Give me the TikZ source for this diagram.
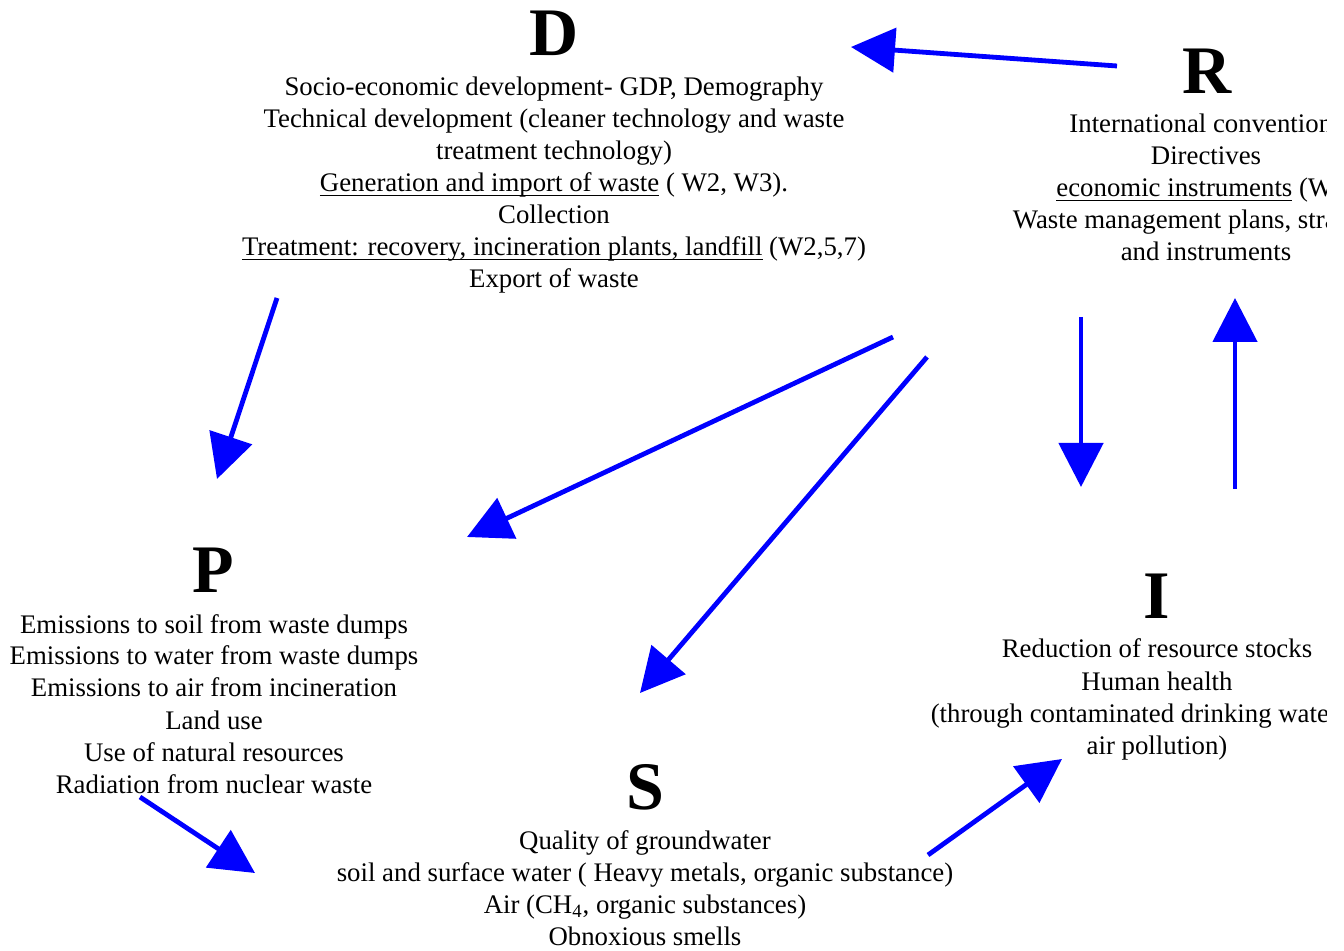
\documentclass[tikz,border=0pt]{standalone}
\usepackage{fontspec}
\setmainfont{Liberation Serif}
\usetikzlibrary{arrows.meta}
\newsavebox\ulbox
\newcommand\myul[1]{\sbox\ulbox{#1}\rlap{\rule[-2.1pt]{\wd\ulbox}{0.7pt}}\usebox\ulbox}
\begin{document}
\begin{tikzpicture}[x=0.5pt,y=-0.5pt,
  bigletter/.style={font=\fontsize{34}{40}\selectfont\bfseries, anchor=base, inner sep=0pt},
  txt/.style={font=\fontsize{13.4}{16}\selectfont, anchor=base, inner sep=0pt},
  flow/.style={blue, line width=2.4pt, -{Triangle[length=22pt,width=22pt]}}]
\useasboundingbox (0,0) rectangle (1344,951);
\begin{scope}
\clip (0,0) rectangle (1326,951);
% D
\node[bigletter] (D) at (554,56) {D};
\node[txt] (d1) at (554,96) {Socio-economic development- GDP, Demography};
\node[txt] (d2) at (554,128) {Technical development (cleaner technology and waste};
\node[txt] (d3) at (554,160) {treatment technology)};
\node[txt] (d4) at (554,192) {\myul{Generation and import of waste} ( W2, W3).};
\node[txt] (d5) at (554,224) {Collection};
\node[txt] (d6) at (554,256) {\myul{Treatment: recovery, incineration plants, landfill} (W2,5,7)};
\node[txt] (d7) at (554,288) {Export of waste};
% R
\node[bigletter] (R) at (1207,94) {R};
\node[txt] (r1) at (1206,133) {International conventions};
\node[txt] (r2) at (1206,165) {Directives};
\node[txt] (r3) at (1206,197) {\myul{economic instruments} (W1)};
\node[txt] (r4) at (1206,229) {Waste management plans, strategies};
\node[txt] (r5) at (1206,261) {and instruments};
% P
\node[bigletter] (P) at (213,593) {P};
\node[txt] (p1) at (214,633) {Emissions to soil from waste dumps};
\node[txt] (p2) at (214,665) {Emissions to water from waste dumps};
\node[txt] (p3) at (214,697) {Emissions to air from incineration};
\node[txt] (p4) at (214,729) {Land use};
\node[txt] (p5) at (214,761) {Use of natural resources};
\node[txt] (p6) at (214,793) {Radiation from nuclear waste};
% I
\node[bigletter] (I) at (1157,618) {I};
\node[txt] (i1) at (1157,658) {Reduction of resource stocks};
\node[txt] (i2) at (1157,690) {Human health};
\node[txt] (i3) at (1157,722) {(through contaminated drinking water and};
\node[txt] (i4) at (1157,754) {air pollution)};
% S
\node[bigletter] (S) at (645,809) {S};
\node[txt] (s1) at (645,849) {Quality of groundwater};
\node[txt] (s2) at (645,881) {soil and surface water ( Heavy metals, organic substance)};
\node[txt] (s3) at (645,913) {Air (CH\textsubscript{4}, organic substances)};
\node[txt] (s4) at (645,945) {Obnoxious smells};
\end{scope}
% arrow end points
\coordinate (rdA) at (1117,66);  \coordinate (rdB) at (851,47);
\coordinate (dpA) at (277,298);  \coordinate (dpB) at (217,479);
\coordinate (dqA) at (893,337);  \coordinate (dqB) at (467,537);
\coordinate (dsA) at (927,357);  \coordinate (dsB) at (640,693);
\coordinate (riA) at (1081,317); \coordinate (riB) at (1081,487);
\coordinate (irA) at (1235,489); \coordinate (irB) at (1235,298);
\coordinate (psA) at (140,797);  \coordinate (psB) at (255,873);
\coordinate (siA) at (928,855);  \coordinate (siB) at (1062,759);
\draw[flow] (rdA) -- (rdB);
\draw[flow] (dpA) -- (dpB);
\draw[flow] (dqA) -- (dqB);
\draw[flow] (dsA) -- (dsB);
\draw[flow] (riA) -- (riB);
\draw[flow] (irA) -- (irB);
\draw[flow] (psA) -- (psB);
\draw[flow] (siA) -- (siB);
\end{tikzpicture}
\end{document}
